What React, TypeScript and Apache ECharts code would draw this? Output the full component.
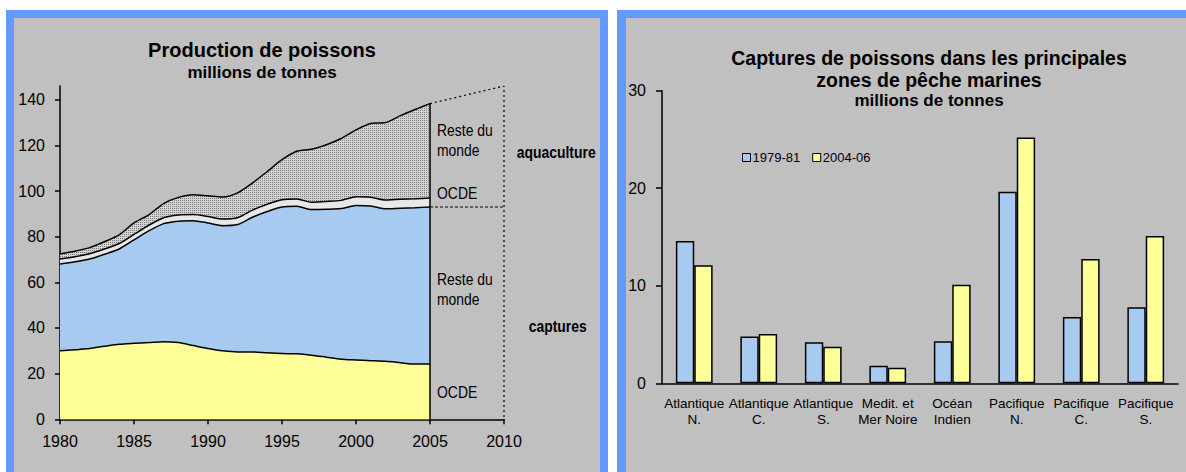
import React, { useEffect, useRef } from 'react';
import * as echarts from 'echarts';

// ---------- Left chart data (millions de tonnes) ----------
const axisYears = ['1980', '1981', '1982', '1983', '1984', '1985', '1986', '1987', '1988', '1989', '1990',
  '1991', '1992', '1993', '1994', '1995', '1996', '1997', '1998', '1999', '2000',
  '2001', '2002', '2003', '2004', '2005', '2006', '2007', '2008', '2009', '2010'];
const capturesOcde = [30.0, 30.5, 31.0, 32.0, 32.9, 33.3, 33.6, 34.0, 33.6, 32.3, 31.0, 30.0, 29.5,
  29.5, 29.1, 28.8, 28.7, 28.1, 27.2, 26.3, 26.0, 25.7, 25.4, 24.8, 24.2, 24.2];
const capturesReste = [38.0, 38.5, 39.2, 40.3, 41.7, 45.3, 48.9, 51.7, 53.2, 54.7, 55.0, 54.8, 55.8,
  59.0, 61.9, 64.2, 64.6, 63.8, 64.8, 66.0, 67.7, 67.7, 66.8, 67.7, 68.5, 68.8];
const aquaOcde = [2.2, 2.2, 2.3, 2.3, 2.4, 2.4, 2.5, 2.6, 2.7, 2.7, 2.8, 2.9, 3.0,
  3.1, 3.2, 3.2, 3.2, 3.2, 3.4, 3.6, 3.8, 3.9, 3.9, 3.9, 3.9, 3.9];
const aquaReste = [2.2, 2.4, 2.7, 3.2, 3.8, 5.0, 4.6, 6.2, 7.7, 8.7, 9.1, 9.7, 10.9,
  11.9, 14.3, 17.5, 20.9, 23.2, 24.9, 27.1, 29.3, 32.3, 33.9, 36.6, 39.1, 41.4];
const projectionYears = ['2005', '2010'];
const projectionTotal = [138.3, 146];
const capturesLevel2005 = 93;
const leftYTicks = [0, 20, 40, 60, 80, 100, 120, 140];

// ---------- Right chart data ----------
const zones = ['Atlantique\nN.', 'Atlantique\nC.', 'Atlantique\nS.', 'Medit. et\nMer Noire',
  'Océan\nIndien', 'Pacifique\nN.', 'Pacifique\nC.', 'Pacifique\nS.'];
const periods = ['1979-81', '2004-06'];
const captures1979 = [14.6, 4.8, 4.2, 1.8, 4.3, 19.65, 6.8, 7.8];
const captures2004 = [12.1, 5.05, 3.75, 1.6, 10.1, 25.2, 12.75, 15.1];

const ARIAL = "'Liberation Sans', Arial, sans-serif";
const BLUE_FRAME = '#6699FF';
const PANEL = '#C0C0C0';
const YELLOW = '#FFFF99';
const LIGHTBLUE = '#A6CAF0';

export default function App() {
  const ref = useRef<HTMLDivElement>(null);

  useEffect(() => {
    if (!ref.current) return;
    const chart = echarts.init(ref.current, undefined, { renderer: 'svg' });

    const c = document.createElement('canvas');
    c.width = 2; c.height = 2;
    const ctx = c.getContext('2d')!;
    ctx.fillStyle = '#D4D4D4'; ctx.fillRect(0, 0, 2, 2);
    ctx.fillStyle = '#7A7A7A'; ctx.fillRect(0, 0, 1, 1);
    const pattern: any = { image: c, repeat: 'repeat', imageWidth: 2, imageHeight: 2 };

    const last = capturesOcde.length - 1;
    const total2005 = capturesOcde[last] + capturesReste[last] + aquaOcde[last] + aquaReste[last];

    const areaBase = (name: string, data: number[], fill: any) => ({
      name, type: 'line', stack: 'prod', xAxisIndex: 0, yAxisIndex: 0,
      data, symbol: 'none', smooth: 0.25,
      lineStyle: { color: '#000', width: 1.5 },
      areaStyle: { color: fill, opacity: 1 },
      z: 2,
    });

    const txt = (text: string, x: number, y: number, size: number, bold = false) => ({
      type: 'text', x, y, z: 100, scaleX: 0.82,
      style: {
        text, fill: '#000', font: `${bold ? 'bold ' : ''}${size}px ${ARIAL}`,
        textAlign: 'left', textVerticalAlign: 'top', lineHeight: 20,
      },
    });
    const ctxt = (text: string, x: number, yMid: number, size: number) => ({
      type: 'text', x, y: yMid, z: 100,
      style: { text, fill: '#000', font: `bold ${size}px ${ARIAL}`, textAlign: 'center', textVerticalAlign: 'middle' },
    });

    const option: any = {
      animation: false,
      backgroundColor: '#FFFFFF',
      graphic: [
        { type: 'rect', z: -100, shape: { x: 6, y: 10, width: 602, height: 470 }, style: { fill: BLUE_FRAME } },
        { type: 'rect', z: -99, shape: { x: 14, y: 18, width: 586, height: 460 }, style: { fill: PANEL } },
        { type: 'rect', z: -100, shape: { x: 617, y: 10, width: 580, height: 470 }, style: { fill: BLUE_FRAME } },
        { type: 'rect', z: -99, shape: { x: 626, y: 18, width: 570, height: 460 }, style: { fill: PANEL } },
        ctxt('Production de poissons', 262, 50.3, 20),
        ctxt('millions de tonnes', 262, 72.4, 17),
        ctxt('Captures de poissons dans les principales', 929, 58.2, 19.5),
        ctxt('zones de pêche marines', 929, 79.9, 19.5),
        ctxt('millions de tonnes', 929, 100.8, 17),
        txt('Reste du\nmonde', 437, 119.8, 17),
        txt('OCDE', 437, 183.3, 17),
        txt('aquaculture', 516.7, 142, 17, true),
        txt('Reste du\nmonde', 437, 269, 17),
        txt('captures', 528.7, 316, 17, true),
        txt('OCDE', 437, 382, 17),
      ],
      legend: {
        data: periods,
        left: 742, top: 151, icon: 'rect', itemWidth: 8, itemHeight: 8, itemGap: 12, padding: 0,
        textStyle: { fontFamily: ARIAL, fontSize: 13, color: '#000', padding: [0, 0, 0, -3] },
        itemStyle: { borderColor: '#000', borderWidth: 1 },
      },
      grid: [
        { left: 60, top: 86, width: 444, height: 333.3, containLabel: false },
        { left: 662, top: 90.7, width: 516, height: 292.6, containLabel: false },
      ],
      xAxis: [
        {
          type: 'category', gridIndex: 0, data: axisYears, boundaryGap: false,
          axisLine: { show: true, lineStyle: { color: '#000', width: 1.5 } },
          axisTick: { show: true, length: 5, interval: 4, lineStyle: { color: '#000', width: 1.5 } },
          axisLabel: { color: '#000', fontFamily: ARIAL, fontSize: 16, margin: 14, interval: 4 },
          splitLine: { show: false },
        },
        {
          type: 'category', gridIndex: 1, data: zones,
          axisLine: { show: true, lineStyle: { color: '#000', width: 1.5 } },
          axisTick: { show: false },
          axisLabel: { color: '#000', fontFamily: ARIAL, fontSize: 13.5, lineHeight: 16, margin: 12, interval: 0 },
        },
      ],
      yAxis: [
        {
          type: 'value', gridIndex: 0, min: 0, max: 146, interval: 20,
          axisLine: { show: true, lineStyle: { color: '#000', width: 1.5 } },
          axisTick: { show: true, length: 5, lineStyle: { color: '#000', width: 1.5 }, customValues: leftYTicks },
          axisLabel: {
            color: '#000', fontFamily: ARIAL, fontSize: 16, margin: 15, customValues: leftYTicks,
            formatter: (v: number) => (v % 20 === 0 ? String(v) : ''),
          },
          splitLine: { show: false },
        },
        {
          type: 'value', gridIndex: 1, min: 0, max: 30, interval: 10,
          axisLine: { show: true, lineStyle: { color: '#000', width: 1.5 } },
          axisTick: { show: true, length: 6, lineStyle: { color: '#000', width: 1.5 } },
          axisLabel: { color: '#000', fontFamily: ARIAL, fontSize: 16, margin: 16 },
          splitLine: { show: false },
        },
      ],
      series: [
        areaBase('Captures OCDE', capturesOcde, YELLOW),
        areaBase('Captures Reste du monde', capturesReste, LIGHTBLUE),
        areaBase('Aquaculture OCDE', aquaOcde, '#E8E8E8'),
        areaBase('Aquaculture Reste du monde', aquaReste, pattern),
        {
          name: 'edge2005', type: 'line', xAxisIndex: 0, yAxisIndex: 0, symbol: 'none',
          data: [[projectionYears[0], 0], [projectionYears[0], total2005]],
          lineStyle: { color: '#000', width: 1.5 }, z: 5,
        },
        {
          name: 'projection', type: 'line', xAxisIndex: 0, yAxisIndex: 0, symbol: 'none',
          data: [[projectionYears[0], projectionTotal[0]], [projectionYears[1], projectionTotal[1]], [projectionYears[1], 0]],
          lineStyle: { color: '#000', width: 1.2, type: [2, 3] }, z: 5,
        },
        {
          name: 'capturesLevel', type: 'line', xAxisIndex: 0, yAxisIndex: 0, symbol: 'none',
          data: [[projectionYears[0], capturesLevel2005], [projectionYears[1], capturesLevel2005]],
          lineStyle: { color: '#000', width: 1.2, type: [3, 2] }, z: 5,
        },
        {
          name: periods[0], type: 'bar', xAxisIndex: 1, yAxisIndex: 1, data: captures1979,
          barGap: '0%', barCategoryGap: '43%',
          itemStyle: { color: LIGHTBLUE, borderColor: '#000', borderWidth: 1.5 },
        },
        {
          name: periods[1], type: 'bar', xAxisIndex: 1, yAxisIndex: 1, data: captures2004,
          barGap: '0%', barCategoryGap: '43%',
          itemStyle: { color: YELLOW, borderColor: '#000', borderWidth: 1.5 },
        },
      ],
    };

    chart.setOption(option);
    return () => chart.dispose();
  }, []);

  return (
    <div style={{ position: 'absolute', left: 0, top: 0, width: 1186, height: 472, background: '#fff' }}>
      <div ref={ref} style={{ width: 1186, height: 472 }} />
    </div>
  );
}
